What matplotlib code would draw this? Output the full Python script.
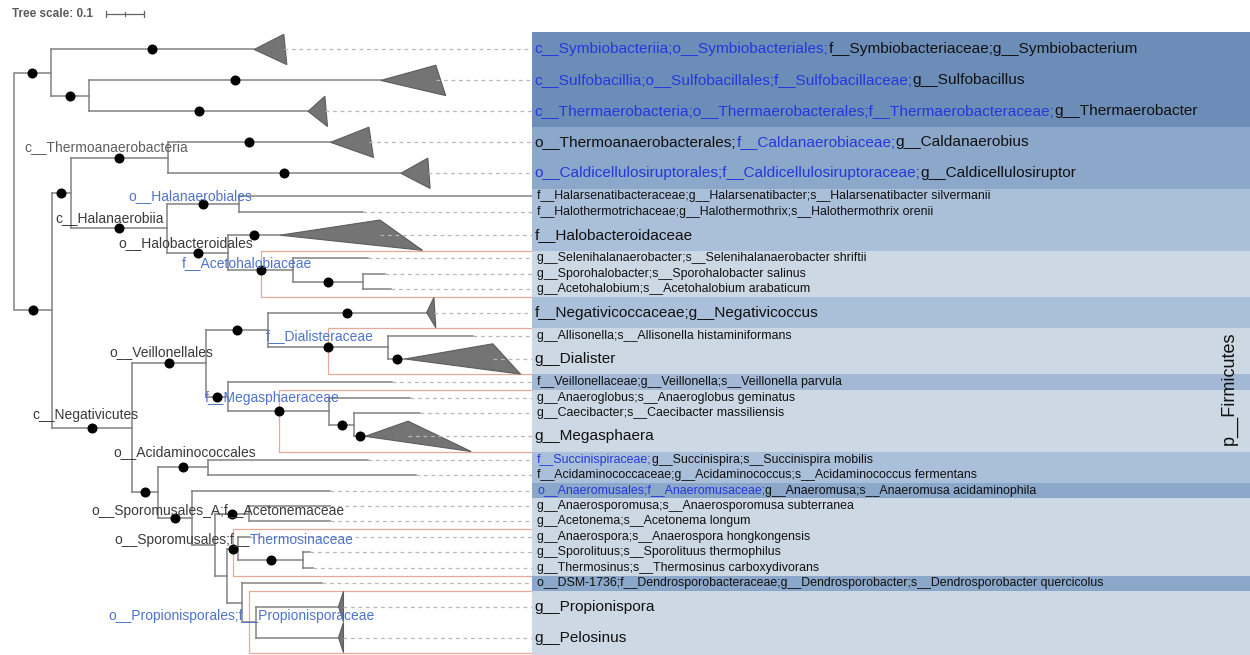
import re
import matplotlib.pyplot as plt
from matplotlib.patches import Polygon, Rectangle

plt.rcParams['font.family'] = ['Liberation Sans', 'DejaVu Sans']

# internal nodes of the tree: parent and depth from the root (subst./site)
node_names   = ['root', 'A', 'C', 'B', 'D', 'F', 'G', 'H', 'I', 'J', 'K', 'E', 'L', 'N',
                'P', 'O', 'Q', 'R', 'M', 'S', 'T', 'U', 'V', 'W', 'X', 'Z', 'Y', 'PP']
node_parents = [None, 'root', 'A', 'root', 'B', 'D', 'D', 'G', 'G', 'I', 'J', 'B', 'E', 'L',
                'N', 'L', 'O', 'Q', 'E', 'M', 'M', 'T', 'U', 'U', 'W', 'X', 'W', 'Y']
node_depths  = [0.0, 0.095, 0.196, 0.098, 0.149, 0.403, 0.402, 0.591, 0.563, 0.734, 0.918,
                0.309, 0.503, 0.667, 0.984, 0.563, 0.828, 0.894, 0.379, 0.509, 0.468, 0.528,
                0.618, 0.560, 0.589, 0.760, 0.598, 0.635]
node_support = [False, True, True, True, True, True, True, True, True, True, True,
                True, True, True, True, True, True, True, True, True, True, False,
                True, False, True, True, False, False]

# leaves top to bottom; {...} = taxon names shown in blue
leaf_labels = [
    '{c__Symbiobacteriia;o__Symbiobacteriales;}f__Symbiobacteriaceae;g__Symbiobacterium',
    '{c__Sulfobacillia;o__Sulfobacillales;f__Sulfobacillaceae;}g__Sulfobacillus',
    '{c__Thermaerobacteria;o__Thermaerobacterales;f__Thermaerobacteraceae;}g__Thermaerobacter',
    'o__Thermoanaerobacterales;{f__Caldanaerobiaceae;}g__Caldanaerobius',
    '{o__Caldicellulosiruptorales;f__Caldicellulosiruptoraceae;}g__Caldicellulosiruptor',
    'f__Halarsenatibacteraceae;g__Halarsenatibacter;s__Halarsenatibacter silvermanii',
    'f__Halothermotrichaceae;g__Halothermothrix;s__Halothermothrix orenii',
    'f__Halobacteroidaceae',
    'g__Selenihalanaerobacter;s__Selenihalanaerobacter shriftii',
    'g__Sporohalobacter;s__Sporohalobacter salinus',
    'g__Acetohalobium;s__Acetohalobium arabaticum',
    'f__Negativicoccaceae;g__Negativicoccus',
    'g__Allisonella;s__Allisonella histaminiformans',
    'g__Dialister',
    'f__Veillonellaceae;g__Veillonella;s__Veillonella parvula',
    'g__Anaeroglobus;s__Anaeroglobus geminatus',
    'g__Caecibacter;s__Caecibacter massiliensis',
    'g__Megasphaera',
    '{f__Succinispiraceae;}g__Succinispira;s__Succinispira mobilis',
    'f__Acidaminococcaceae;g__Acidaminococcus;s__Acidaminococcus fermentans',
    '{o__Anaeromusales;f__Anaeromusaceae;}g__Anaeromusa;s__Anaeromusa acidaminophila',
    'g__Anaerosporomusa;s__Anaerosporomusa subterranea',
    'g__Acetonema;s__Acetonema longum',
    'g__Anaerospora;s__Anaerospora hongkongensis',
    'g__Sporolituus;s__Sporolituus thermophilus',
    'g__Thermosinus;s__Thermosinus carboxydivorans',
    'o__DSM-1736;f__Dendrosporobacteraceae;g__Dendrosporobacter;s__Dendrosporobacter quercicolus',
    'g__Propionispora',
    'g__Pelosinus',
]
leaf_parents = ['A', 'C', 'C', 'F', 'F', 'H', 'H', 'I', 'J', 'K', 'K', 'N', 'P', 'P', 'O',
                'Q', 'R', 'R', 'S', 'S', 'T', 'V', 'V', 'X', 'Z', 'Z', 'Y', 'PP', 'PP']
leaf_depths = [0.631, 0.964, 0.773, 0.832, 1.017, 1.362, 0.917, 0.699, 0.931, 0.975, 0.990,
               1.085, 1.207, 1.028, 0.993, 1.041, 1.067, 0.923, 0.930, 1.056, 0.831, 0.831,
               0.831, 0.620, 0.778, 0.786, 0.809, 0.853, 0.853]
leaf_support = [True, True, True, True, True, False, False, True, False, False, False,
                True, False, True, False, False, False, True, False, False, False, False,
                False, False, False, False, False, False, False]
# collapsed clades: (shortest, longest) depth of the hidden tips
leaf_collapsed = [(0.709, 0.717), (1.109, 1.135), (0.817, 0.824), (0.933, 0.945), (1.088, 1.094),
                  None, None, (0.962, 1.074), None, None, None, (1.104, 1.109), None,
                  (1.259, 1.332), None, None, None, (1.036, 1.202), None, None, None, None,
                  None, None, None, None, None, (0.866, 0.866), (0.866, 0.866)]
leaf_band = [0, 0, 0, 1, 1, 2, 2, 2, 4, 4, 4, 2, 4, 4, 3, 4, 4, 4, 2, 2, 1, 4, 4, 4, 4, 4, 1, 4, 4]
band_colors = ['#6b8db8', '#8ba7c9', '#aabfd9', '#a2b8d4', '#cdd8e5']

# highlighted clades (boxed from the middle of their stem)
box_nodes = ['J', 'P', 'Q', 'X', 'PP']

# internal node labels
clade_labels = ['c__Thermoanaerobacteria', '{o__Halanaerobiales}', 'c__Halanaerobiia',
                'o__Halobacteroidales', '{f__Acetohalobiaceae}', '{f__Dialisteraceae}',
                'o__Veillonellales', '{f__Megasphaeraceae}', 'c__Negativicutes',
                'o__Acidaminococcales', 'o__Sporomusales_A;f__Acetonemaceae',
                'o__Sporomusales;f__{Thermosinaceae}',
                '{o__Propionisporales;f__Propionisporaceae}']
clade_label_pos = [(0.025, 7.30), (0.299, 10.47), (0.107, 11.89), (0.274, 13.5), (0.441, 14.8),
                   (0.662, 19.5), (0.249, 20.53), (0.502, 23.54), (0.048, 24.6), (0.260, 27.03),
                   (0.202, 30.82), (0.262, 32.7), (0.247, 37.59)]

W, H = 1250, 655
top_px, row_px = 34, 15.475
root_px, panel_px, scale_px = 14.4, 532, 380   # 0.1 subst./site = 38 px
y_max = (H - top_px) / row_px
x_max = (panel_px - root_px) / scale_px

line_col = '#828282'
label_dark = '#3a3a3a'
label_blue = '#4f74c8'
panel_blue = '#2438dc'


def rich_text(ax, x, y, s, size, base, accent, **kw):
    prev = None
    for part in [p for p in re.split(r'(\{[^}]*\})', s) if p]:
        col = accent if part.startswith('{') else base
        part = part.strip('{}')
        if prev is None:
            prev = ax.text(x, y, part, color=col, fontsize=size, ha='left', va='center',
                           zorder=6, **kw)
        else:
            prev = ax.annotate(part, xy=(1, 0), xycoords=prev, ha='left', va='bottom',
                               color=col, fontsize=size, zorder=6)
    return prev


# row centres
leaf_y = []
pos = 0.0
for c in leaf_collapsed:
    h = 2 if c else 1
    leaf_y.append(pos + h / 2)
    pos += h

depth = dict(zip(node_names, node_depths))
parent = dict(zip(node_names, node_parents))
kids = {n: [] for n in node_names}
for n, p in zip(node_names, node_parents):
    if p:
        kids[p].append(('n', n))
for i, p in enumerate(leaf_parents):
    kids[p].append(('l', i))

node_y = {}


def get_y(kind, key):
    if kind == 'l':
        return leaf_y[key]
    if key not in node_y:
        ys = [get_y(k, c) for k, c in kids[key]]
        node_y[key] = (min(ys) + max(ys)) / 2
    return node_y[key]


get_y('n', 'root')


def leaf_range(n):
    out = []
    for k, c in kids[n]:
        out += [c] if k == 'l' else leaf_range(c)
    return out


fig = plt.figure(figsize=(W / 100, H / 100), dpi=100)
ax = fig.add_axes([root_px / W, 0, (panel_px - root_px) / W, (H - top_px) / H])
ax.set_xlim(0, x_max)
ax.set_ylim(y_max, 0)
ax.axis('off')

# tree branches
dots = []
for n in node_names:
    y = node_y[n]
    ys = [get_y(k, c) for k, c in kids[n]]
    ax.plot([depth[n], depth[n]], [min(ys), max(ys)], color=line_col, lw=1.1, zorder=3,
            clip_on=False)
    p = parent[n]
    if p:
        ax.plot([depth[p], depth[n]], [y, y], color=line_col, lw=1.1, zorder=3)
        if node_support[node_names.index(n)]:
            dots.append(((depth[p] + depth[n]) / 2, y))

for i, p in enumerate(leaf_parents):
    y = leaf_y[i]
    d = leaf_depths[i]
    ax.plot([depth[p], d], [y, y], color=line_col, lw=1.1, zorder=3)
    if leaf_support[i]:
        dots.append(((depth[p] + d) / 2, y))
    span = leaf_collapsed[i]
    if span:
        ax.add_patch(Polygon([(d, y), (span[0], y - 0.98), (span[1], y + 0.98)],
                             closed=True, fc='#747474', ec='#5c5c5c', lw=0.8, zorder=3))
        start = span[0]
    else:
        start = d
    if start < x_max - 0.01:
        ax.plot([start, x_max], [y, y], color='#b8b8b8', lw=0.9, ls=(0, (3, 3)), zorder=4)

ax.plot([x for x, _ in dots], [y for _, y in dots], 'o', color='black', ms=6.2,
        zorder=5, clip_on=False)

# clade highlight boxes
for n in box_nodes:
    ids = leaf_range(n)
    top = min(leaf_y[i] - (1 if leaf_collapsed[i] else 0.5) for i in ids)
    bot = max(leaf_y[i] + (1 if leaf_collapsed[i] else 0.5) for i in ids)
    x0 = (depth[parent[n]] + depth[n]) / 2
    ax.add_patch(Rectangle((x0, top), x_max - x0 + 0.05, bot - top, fc='none',
                           ec='#eaa998', lw=0.9, zorder=1, clip_on=False))

for s, (x, y) in zip(clade_labels, clade_label_pos):
    base = '#5e5e5e' if s.startswith('c__Thermo') else label_dark
    rich_text(ax, x, y, s, 10, base, label_blue)

# tree scale
sb_x, sb_y = 0.241, -1.29
ax.plot([sb_x, sb_x + 0.1], [sb_y, sb_y], color='#666666', lw=0.9, clip_on=False)
for xx, hh in [(sb_x, 0.22), (sb_x + 0.1, 0.22), (sb_x + 0.05, 0.1)]:
    ax.plot([xx, xx], [sb_y - hh, sb_y + hh], color='#666666', lw=0.9, clip_on=False)
ax.text(sb_x - 0.034, sb_y, 'Tree scale: 0.1', ha='right', va='center', fontsize=8.5,
        fontweight='bold', color='#5a5a5a')

# label panel
ax2 = fig.add_axes([panel_px / W, 0, 1 - panel_px / W, (H - top_px + 2) / H])
ax2.set_xlim(0, 1)
ax2.set_ylim(y_max, -2 / row_px)
ax2.axis('off')
for i, lab in enumerate(leaf_labels):
    h = 2 if leaf_collapsed[i] else 1
    lo = -2 / row_px if i == 0 else leaf_y[i] - h / 2
    hi = y_max if i == len(leaf_labels) - 1 else leaf_y[i] + h / 2
    ax2.axhspan(lo, hi, color=band_colors[leaf_band[i]], lw=0, zorder=0)
    big = leaf_collapsed[i] is not None
    rich_text(ax2, 0.004 if big else 0.007, leaf_y[i], lab, 11.1 if big else 8.9,
              '#111111', panel_blue)

ax2.text(0.971, 22.88, 'p__Firmicutes', rotation=90, ha='center', va='center',
         fontsize=13, color='#111111')

fig.savefig('out.png', dpi=100)
